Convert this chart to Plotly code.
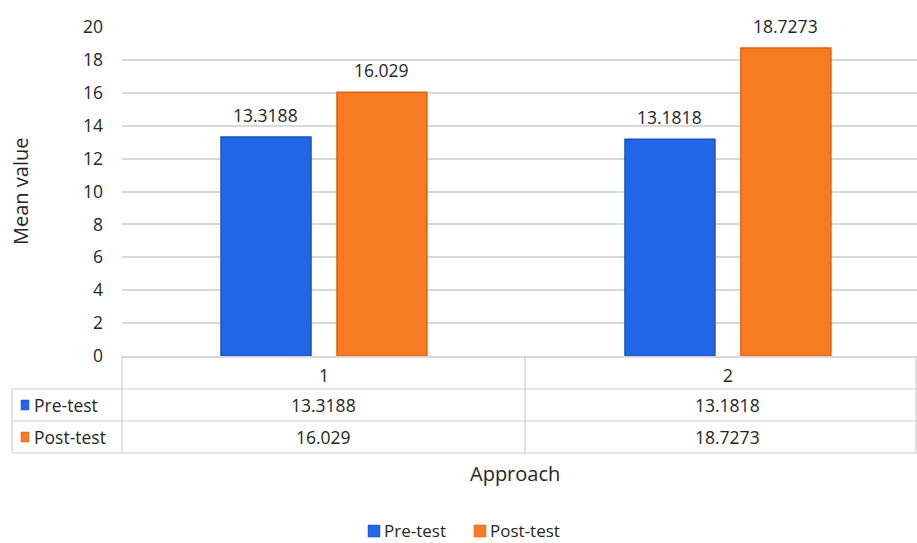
import plotly.graph_objects as go

# Data
approaches = ["1", "2"]
pre_test = [13.3188, 13.1818]
post_test = [16.029, 18.7273]
series_names = ["Pre-test", "Post-test"]
y_ticks = [0, 2, 4, 6, 8, 10, 12, 14, 16, 18, 20]

BLUE = "#1f66e8"
BLUE_EDGE = "#1a50b8"
ORANGE = "#f77b22"
ORANGE_EDGE = "#e0620f"
TEXT = "#262626"
GRID = "#d9d9d9"
TABLE_LINE = "#cfcfcf"
FONT = "'Open Sans', Lato, sans-serif"
FS = 17.5      # body text size
FS_TITLE = 20  # axis title size

W, H = 917, 543
L, R, T, B = 122, 0, 27, 187
PW, PH = W - L - R, H - T - B


def px(x):
    return (x - L) / PW


def py(y):
    return (H - B - y) / PH


xpos = list(range(len(approaches)))
series = [(series_names[0], pre_test, BLUE, BLUE_EDGE),
          (series_names[1], post_test, ORANGE, ORANGE_EDGE)]

fig = go.Figure()
for name, vals, col, edge in series:
    fig.add_trace(go.Bar(
        x=xpos, y=vals, name=name,
        marker=dict(color=col, line=dict(color=edge, width=1.5)),
        hoverinfo="x+y", showlegend=False,
    ))

annotations = []
shapes = []

# value labels above bars
bar_shift = 58
for i, (name, vals, col, edge) in enumerate(series):
    for xi, v in zip(xpos, vals):
        annotations.append(dict(
            x=xi, y=v, xref="x", yref="y", text=f"{v:g}",
            showarrow=False, xshift=(-bar_shift if i == 0 else bar_shift),
            yanchor="bottom", yshift=8,
            font=dict(size=FS, color=TEXT, family=FONT),
        ))

# data table under the axis
row_lines = [389, 421, 453]
for yl in row_lines:
    shapes.append(dict(type="line", xref="paper", yref="paper",
                       x0=px(12), x1=px(917), y0=py(yl), y1=py(yl),
                       line=dict(color=TABLE_LINE, width=1.2)))
for xl, top in [(12, 389), (122, 356), (525, 356), (916, 356)]:
    shapes.append(dict(type="line", xref="paper", yref="paper",
                       x0=px(xl), x1=px(xl), y0=py(top), y1=py(453),
                       line=dict(color=TABLE_LINE, width=1.2)))

row_centers = [405, 437]
for (name, vals, col, edge), yc in zip(series, row_centers):
    shapes.append(dict(type="rect", xref="paper", yref="paper",
                       x0=px(21), x1=px(29), y0=py(yc + 5), y1=py(yc - 5),
                       fillcolor=col, line=dict(color=edge, width=0.5)))
    annotations.append(dict(x=px(32), y=py(yc), xref="paper", yref="paper",
                            text=name, showarrow=False, xanchor="left",
                            yanchor="middle",
                            font=dict(size=FS, color=TEXT, family=FONT)))
    for xi, v in zip(xpos, vals):
        annotations.append(dict(x=xi, y=py(yc), xref="x", yref="paper",
                                text=f"{v:g}", showarrow=False,
                                yanchor="middle",
                                font=dict(size=FS, color=TEXT, family=FONT)))

# legend row at the bottom
LEG_Y = 530
legend_items = [(series_names[0], BLUE, BLUE_EDGE, 368),
                (series_names[1], ORANGE, ORANGE_EDGE, 474)]
for name, col, edge, x0 in legend_items:
    shapes.append(dict(type="rect", xref="paper", yref="paper",
                       x0=px(x0), x1=px(x0 + 12),
                       y0=py(LEG_Y + 7), y1=py(LEG_Y - 5),
                       fillcolor=col, line=dict(color=edge, width=0.5)))
    annotations.append(dict(x=px(x0 + 15), y=py(LEG_Y), xref="paper",
                            yref="paper", text=name, showarrow=False,
                            xanchor="left", yanchor="middle", borderpad=0,
                            font=dict(size=17, color=TEXT, family=FONT)))

# axis titles
annotations.append(dict(x=px(515), y=py(473), xref="paper", yref="paper",
                        text="Approach", showarrow=False, yanchor="middle",
                        font=dict(size=FS_TITLE, color=TEXT, family=FONT)))
annotations.append(dict(x=px(20), y=py(192), xref="paper", yref="paper",
                        text="Mean value", showarrow=False, textangle=-90,
                        xanchor="center", yanchor="middle",
                        font=dict(size=FS_TITLE, color=TEXT, family=FONT)))

fig.update_layout(
    width=W, height=H,
    margin=dict(l=L, r=R, t=T, b=B, pad=0),
    paper_bgcolor="white", plot_bgcolor="white",
    barmode="group", bargap=0.426, bargroupgap=0.224,
    font=dict(family=FONT, size=FS, color=TEXT),
    showlegend=False,
    annotations=annotations,
    shapes=shapes,
    xaxis=dict(
        range=[-0.5, 1.468], tickmode="array", tickvals=xpos,
        ticktext=approaches, showgrid=False, zeroline=False,
        showline=True, linecolor=GRID, linewidth=1.5,
        ticks="", ticklabelstandoff=3,
        tickfont=dict(size=FS, color=TEXT, family=FONT),
        fixedrange=True,
    ),
    yaxis=dict(
        range=[0, 20], tickmode="array", tickvals=y_ticks,
        showgrid=True, gridcolor=GRID, gridwidth=1.5,
        zeroline=False, showline=False, ticks="",
        ticklabelstandoff=18,
        tickfont=dict(size=FS, color=TEXT, family=FONT),
        fixedrange=True,
    ),
)

fig.write_html("out.html")
